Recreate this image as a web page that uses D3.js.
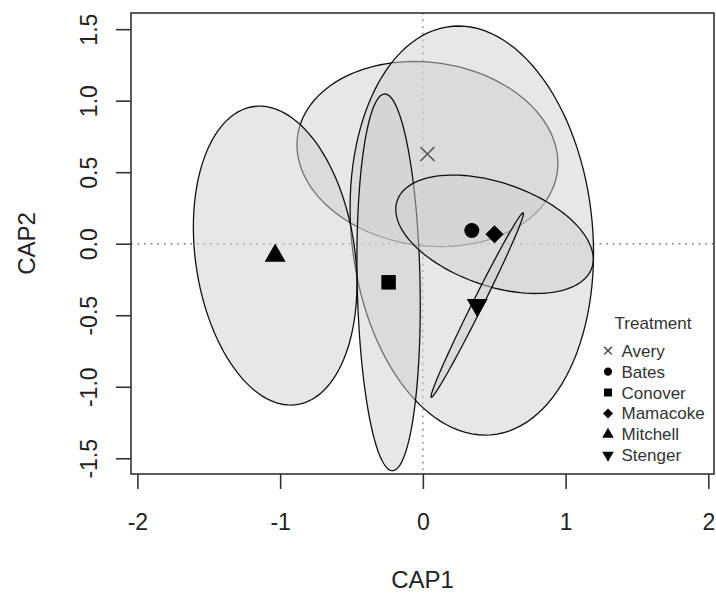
<!DOCTYPE html>
<html lang="en">
<head>
<meta charset="UTF-8">
<title>CAP ordination</title>
<script src="https://cdn.jsdelivr.net/npm/d3@7"></script>
<style>
  body { margin: 0; background: #fff; }
  svg text { font-family: "Liberation Sans", Arial, Helvetica, sans-serif; }
</style>
</head>
<body>
<script>
// group centroids on the two CAP axes
var groups = ["Avery", "Bates", "Conover", "Mamacoke", "Mitchell", "Stenger"];
var cap1 = [0.032, 0.343, -0.240, 0.502, -1.035, 0.381];
var cap2 = [0.627, 0.092, -0.270, 0.066, -0.083, -0.429];

// ellipse spread per group: half-extent on CAP1, on CAP2, and correlation
var spreadCap1 = [0.914, 0.853, 0.222, 0.692, 0.573, 0.324];
var spreadCap2 = [0.647, 1.430, 1.317, 0.414, 1.045, 0.645];
var spreadCorr = [-0.10, -0.11, -0.12, -0.42, -0.19, 0.992];

var xTicks = [-2, -1, 0, 1, 2];
var yTicks = [-1.5, -1.0, -0.5, 0.0, 0.5, 1.0, 1.5];
var legendTitle = "Treatment";

function drawChart() {
    var plotLeft = 131, plotRight = 714, plotTop = 13, plotBottom = 474;

    var svg = d3.select("body").append("svg")
        .attr("width", 716)
        .attr("height", 593);

    var x = d3.scaleLinear().domain([-2.045, 2.04]).range([plotLeft, plotRight]);
    var y = d3.scaleLinear().domain([-1.61, 1.613]).range([plotBottom, plotTop]);

    svg.append("clipPath").attr("id", "plot-clip")
        .append("rect")
        .attr("x", plotLeft).attr("y", plotTop)
        .attr("width", plotRight - plotLeft).attr("height", plotBottom - plotTop);

    var plot = svg.append("g").attr("clip-path", "url(#plot-clip)");

    // dotted reference lines through the origin
    plot.append("line")
        .attr("x1", plotLeft).attr("x2", plotRight)
        .attr("y1", y(0)).attr("y2", y(0))
        .attr("stroke", "#777").attr("stroke-width", 1.4)
        .attr("stroke-dasharray", "1.6 5");
    plot.append("line")
        .attr("x1", x(0)).attr("x2", x(0))
        .attr("y1", plotTop).attr("y2", plotBottom)
        .attr("stroke", "#777").attr("stroke-width", 1.4)
        .attr("stroke-dasharray", "1.6 5");

    // ellipses, drawn in group order so later fills cover earlier borders
    function ellipsePoints(i) {
        var pts = [];
        var r = spreadCorr[i];
        var s = Math.sqrt(1 - r * r);
        for (var k = 0; k < 120; k++) {
            var t = k / 120 * 2 * Math.PI;
            pts.push([
                cap1[i] + spreadCap1[i] * Math.cos(t),
                cap2[i] + spreadCap2[i] * (r * Math.cos(t) + s * Math.sin(t))
            ]);
        }
        return pts;
    }

    var ellipseLine = d3.line()
        .x(function (d) { return x(d[0]); })
        .y(function (d) { return y(d[1]); })
        .curve(d3.curveLinearClosed);

    groups.forEach(function (g, i) {
        plot.append("path")
            .attr("d", ellipseLine(ellipsePoints(i)))
            .attr("fill", "rgba(208,208,208,0.5)")
            .attr("stroke", "#111")
            .attr("stroke-width", 1.3);
    });

    // point symbols
    var shapes = ["cross", "circle", "square", "diamond", "up", "down"];

    function symbolPath(shape, scale) {
        if (shape === "circle") return d3.symbol(d3.symbolCircle, 177 * scale * scale)();
        if (shape === "square") return d3.symbol(d3.symbolSquare, 210 * scale * scale)();
        if (shape === "diamond") return d3.symbol(d3.symbolSquare, 165 * scale * scale)();
        if (shape === "up" || shape === "down") return d3.symbol(d3.symbolTriangle, 190 * scale * scale)();
        var h = 7 * scale;
        return "M" + (-h) + "," + (-h) + "L" + h + "," + h + "M" + (-h) + "," + h + "L" + h + "," + (-h);
    }

    function drawSymbol(parent, shape, px, py, scale) {
        var rot = shape === "diamond" ? 45 : (shape === "down" ? 180 : 0);
        var p = parent.append("path")
            .attr("d", symbolPath(shape, scale))
            .attr("transform", "translate(" + px + "," + py + ") rotate(" + rot + ")");
        if (shape === "cross") {
            p.attr("fill", "none").attr("stroke", "#555").attr("stroke-width", 1.6);
        } else {
            p.attr("fill", "#000");
        }
    }

    groups.forEach(function (g, i) {
        drawSymbol(svg, shapes[i], x(cap1[i]), y(cap2[i]), 1);
    });

    // frame
    svg.append("rect")
        .attr("x", plotLeft).attr("y", plotTop)
        .attr("width", plotRight - plotLeft).attr("height", plotBottom - plotTop)
        .attr("fill", "none")
        .attr("stroke", "#333")
        .attr("stroke-width", 1.6);

    // axes
    var xAxis = svg.append("g")
        .attr("transform", "translate(0," + plotBottom + ")")
        .call(d3.axisBottom(x).tickValues(xTicks).tickSize(15).tickSizeOuter(0)
            .tickFormat(function (d) { return String(d); }));
    xAxis.select(".domain").remove();
    xAxis.selectAll("line").attr("stroke", "#333").attr("stroke-width", 1.6);
    xAxis.selectAll("text")
        .attr("y", 56).attr("dy", 0)
        .attr("fill", "#222")
        .style("font-size", "23px");

    var yAxis = svg.append("g")
        .attr("transform", "translate(" + plotLeft + ",0)")
        .call(d3.axisLeft(y).tickValues(yTicks).tickSize(15).tickSizeOuter(0)
            .tickFormat(function (d) { return d.toFixed(1); }));
    yAxis.select(".domain").remove();
    yAxis.selectAll("line").attr("stroke", "#333").attr("stroke-width", 1.6);
    yAxis.selectAll("text")
        .attr("transform", "rotate(-90)")
        .attr("x", 0).attr("y", -34).attr("dy", 0)
        .attr("text-anchor", "middle")
        .attr("fill", "#222")
        .style("font-size", "23px");

    // axis titles
    svg.append("text")
        .attr("x", (plotLeft + plotRight) / 2).attr("y", 588)
        .attr("text-anchor", "middle")
        .attr("fill", "#222")
        .style("font-size", "24px")
        .text("CAP1");

    svg.append("text")
        .attr("transform", "translate(35," + (plotTop + plotBottom) / 2 + ") rotate(-90)")
        .attr("text-anchor", "middle")
        .attr("fill", "#222")
        .style("font-size", "24px")
        .text("CAP2");

    // legend
    var legend = svg.append("g").attr("id", "legend");

    legend.append("text")
        .attr("x", 653).attr("y", 329)
        .attr("text-anchor", "middle")
        .attr("fill", "#333")
        .style("font-size", "17px")
        .text(legendTitle);

    groups.forEach(function (g, i) {
        var cy = 350.7 + i * 20.9;
        drawSymbol(legend, shapes[i], 608, cy, 0.55);
        legend.append("text")
            .attr("x", 621.5).attr("y", cy + 6)
            .attr("fill", "#333")
            .style("font-size", "17px")
            .text(g);
    });
}

drawChart();
</script>
</body>
</html>
